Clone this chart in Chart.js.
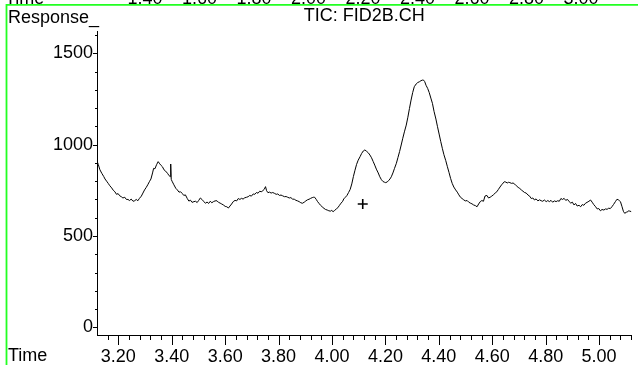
<!DOCTYPE html>
<html>
<head>
<meta charset="utf-8">
<script src="https://cdn.jsdelivr.net/npm/chart.js@4"></script>
<style>
html,body{margin:0;padding:0;background:#fff;overflow:hidden;}
canvas{display:block;}
</style>
</head>
<body>
<canvas id="c" width="638" height="365"></canvas>
<script>
// ---- data ----
const times = [
3.119,3.125,3.131,3.138,3.145,3.150,3.156,3.162,3.168,3.175,3.181,3.187,3.193,3.199,3.205,3.211,3.217,3.224,3.230,3.236,
3.242,3.248,3.255,3.261,3.267,3.273,3.279,3.286,3.292,3.298,3.304,3.310,3.316,3.322,3.328,3.332,3.337,3.343,3.349,3.355,
3.360,3.365,3.371,3.377,3.384,3.390,3.394,3.396,3.398,3.401,3.408,3.415,3.421,3.427,3.433,3.439,3.445,3.451,3.458,3.464,
3.470,3.476,3.483,3.489,3.495,3.501,3.507,3.513,3.519,3.526,3.532,3.538,3.544,3.550,3.556,3.562,3.569,3.575,3.581,3.587,
3.593,3.600,3.606,3.612,3.618,3.624,3.630,3.637,3.643,3.649,3.655,3.661,3.667,3.673,3.680,3.686,3.692,3.698,3.705,3.711,
3.717,3.723,3.729,3.735,3.741,3.746,3.751,3.755,3.760,3.766,3.772,3.778,3.785,3.791,3.797,3.803,3.809,3.815,3.822,3.828,
3.834,3.840,3.846,3.852,3.859,3.865,3.871,3.877,3.883,3.889,3.896,3.902,3.908,3.914,3.920,3.926,3.930,3.935,3.941,3.946,
3.951,3.957,3.963,3.970,3.976,3.982,3.988,3.994,3.999,4.004,4.010,4.016,4.022,4.028,4.034,4.040,4.044,4.050,4.056,4.062,
4.068,4.074,4.080,4.086,4.092,4.098,4.105,4.111,4.117,4.123,4.129,4.136,4.142,4.148,4.154,4.160,4.166,4.173,4.179,4.185,
4.191,4.197,4.201,4.207,4.213,4.217,4.222,4.228,4.234,4.241,4.247,4.253,4.259,4.265,4.271,4.278,4.284,4.290,4.296,4.302,
4.308,4.315,4.321,4.327,4.333,4.338,4.342,4.347,4.352,4.358,4.364,4.370,4.376,4.382,4.389,4.395,4.401,4.407,4.413,4.419,
4.426,4.432,4.438,4.444,4.450,4.456,4.463,4.469,4.475,4.481,4.487,4.493,4.499,4.506,4.512,4.518,4.524,4.530,4.537,4.543,
4.549,4.555,4.561,4.567,4.573,4.580,4.586,4.592,4.598,4.604,4.611,4.617,4.623,4.629,4.635,4.641,4.645,4.651,4.656,4.661,
4.666,4.672,4.678,4.684,4.690,4.697,4.703,4.709,4.715,4.721,4.727,4.734,4.740,4.746,4.752,4.758,4.764,4.771,4.777,4.783,
4.789,4.795,4.802,4.808,4.814,4.820,4.826,4.833,4.839,4.845,4.851,4.857,4.863,4.869,4.875,4.882,4.888,4.894,4.900,4.906,
4.912,4.918,4.925,4.931,4.937,4.943,4.949,4.955,4.962,4.968,4.974,4.980,4.987,4.993,4.999,5.005,5.011,5.018,5.024,5.030,
5.036,5.042,5.048,5.054,5.061,5.067,5.072,5.077,5.080,5.086,5.091,5.096,5.102,5.107,5.110,5.115,5.121
];
const response = [
916,890,862,843,826,812,800,788,775,763,750,742,728,732,720,715,708,712,700,700,
694,702,690,693,700,693,706,718,735,752,765,780,797,812,845,870,868,890,907,895,
886,879,862,855,843,830,825,894,810,800,780,761,752,740,742,733,722,725,705,691,
696,684,688,690,683,695,708,700,690,679,686,678,690,682,688,692,693,684,680,675,
670,662,660,653,664,675,688,695,692,705,700,706,702,709,712,715,722,718,730,728,
738,734,745,742,748,755,770,748,737,740,735,738,733,728,730,722,724,720,715,716,
712,708,710,702,701,695,692,688,682,679,685,692,698,701,706,710,712,712,700,688,
679,668,660,651,645,642,638,636,640,633,640,648,655,668,680,690,703,712,722,738,
755,785,825,860,892,915,934,952,965,971,964,955,943,928,908,888,866,845,824,808,
798,794,792,796,805,812,824,845,870,898,930,962,998,1035,1070,1107,1150,1198,1244,1285,
1317,1332,1340,1344,1350,1353,1354,1345,1325,1308,1285,1255,1226,1182,1140,1098,1058,1018,980,945,
912,879,848,815,788,768,752,740,725,712,705,698,692,694,685,680,676,670,666,660,
675,688,694,690,719,722,708,712,718,725,735,742,755,768,780,790,797,795,790,794,
792,788,790,784,775,766,760,752,745,738,735,724,718,705,708,697,703,692,698,693,
690,697,688,694,688,695,685,692,688,693,690,705,700,706,695,700,688,680,685,670,
678,664,668,660,672,668,679,684,690,697,685,672,660,648,650,638,645,642,648,646,
652,650,660,672,688,701,698,692,688,660,635,624,630,632,638,636,633
];
const markerTimes = [4.115];
const markerResponse = [675];

const xMajorTicks = [3.20, 3.40, 3.60, 3.80, 4.00, 4.20, 4.40, 4.60, 4.80, 5.00];
const xTickLabels = ['3.20','3.40','3.60','3.80','4.00','4.20','4.40','4.60','4.80','5.00'];
const yMajorTicks = [0, 500, 1000, 1500];
const yTickLabels = ['0','500','1000','1500'];
const xMin = 3.120, xMax = 5.121;
const yMin = -42, yMax = 1622;

const titleText = 'TIC: FID2B.CH';
const yAxisLabel = 'Response_';
const xAxisLabel = 'Time';
// clipped axis labels of the chart above (only their bottoms show)
const prevLabels = ['Time','1.40','1.60','1.80','2.00','2.20','2.40','2.60','2.80','3.00'];

// minor ticks: every 0.04 min and every 100 response units
const xMinorTicks = [];
for (let k = 79; k <= 128; k++) xMinorTicks.push(k * 0.04);
const yMinorTicks = [];
for (let k = 0; k <= 16; k++) yMinorTicks.push(k * 100);

const FONT = 'Liberation Sans, Arial, sans-serif';

const decor = {
  id: 'decor',
  afterDraw(chart) {
    const c = chart.ctx, a = chart.chartArea;
    const xs = chart.scales.x, ys = chart.scales.y;
    c.save();
    c.strokeStyle = '#000';
    c.lineWidth = 1;
    c.beginPath();
    xMinorTicks.forEach(v => {
      const isMajor = xMajorTicks.some(m => Math.abs(m - v) < 1e-6);
      if (v > xMax) return;
      const px = Math.round(xs.getPixelForValue(v)) + 0.5;
      c.moveTo(px, a.bottom);
      c.lineTo(px, a.bottom + (isMajor ? 10 : 5));
    });
    yMinorTicks.forEach(v => {
      const isMajor = yMajorTicks.includes(v);
      const py = Math.round(ys.getPixelForValue(v)) + 0.5;
      c.moveTo(a.left, py);
      c.lineTo(a.left - (isMajor ? 4 : 2), py);
    });
    c.stroke();

    c.fillStyle = '#000';
    c.font = '18px ' + FONT;
    c.textAlign = 'left';
    c.textBaseline = 'alphabetic';
    c.fillText(yAxisLabel, 8, 23);
    c.fillText(xAxisLabel, 8, 361);

    // clipped labels of the previous plot at the very top
    c.save();
    c.beginPath();
    c.rect(0, 0, chart.width, 4);
    c.clip();
    c.textAlign = 'left';
    c.fillText(prevLabels[0], 5, 3.5);
    c.textAlign = 'center';
    for (let i = 1; i < prevLabels.length; i++) {
      c.fillText(prevLabels[i], 145 + (i - 1) * 54.5, 3.5);
    }
    c.restore();

    // green frame
    c.strokeStyle = '#22ff22';
    c.lineWidth = 1.8;
    c.beginPath();
    c.moveTo(6.5, chart.height);
    c.lineTo(6.5, 4.8);
    c.lineTo(chart.width, 4.8);
    c.stroke();
    c.restore();
  }
};

new Chart(document.getElementById('c'), {
  type: 'line',
  data: {
    datasets: [
      {
        data: times.map((t, i) => ({ x: t, y: response[i] })),
        borderColor: '#000',
        borderWidth: 1,
        pointRadius: 0,
        tension: 0,
        fill: false
      },
      {
        type: 'scatter',
        data: markerTimes.map((t, i) => ({ x: t, y: markerResponse[i] })),
        pointStyle: 'cross',
        pointRadius: 5,
        borderColor: '#000',
        backgroundColor: '#000',
        borderWidth: 1.6,
        showLine: false
      }
    ]
  },
  options: {
    responsive: false,
    animation: false,
    devicePixelRatio: 1,
    layout: { padding: 0 },
    plugins: {
      legend: { display: false },
      tooltip: { enabled: false },
      title: {
        display: true,
        text: titleText,
        fullSize: false,
        color: '#000',
        font: { family: FONT, size: 18, weight: 'normal', lineHeight: 1.2 },
        padding: { top: 5, bottom: 4.4 }
      }
    },
    scales: {
      x: {
        type: 'linear',
        min: xMin,
        max: xMax,
        grid: { display: false, drawTicks: false },
        border: { display: true, color: '#000', width: 1 },
        afterBuildTicks: s => { s.ticks = xMajorTicks.map(v => ({ value: v })); },
        afterFit: s => { s.height = 30; },
        ticks: {
          autoSkip: false,
          maxRotation: 0,
          padding: 11,
          color: '#000',
          font: { family: FONT, size: 18 },
          callback: (v, i) => xTickLabels[i]
        }
      },
      y: {
        type: 'linear',
        min: yMin,
        max: yMax,
        grid: { display: false, drawTicks: false },
        border: { display: true, color: '#000', width: 1 },
        afterBuildTicks: s => { s.ticks = yMajorTicks.map(v => ({ value: v })); },
        afterFit: s => { s.width = 97; },
        ticks: {
          autoSkip: false,
          padding: 4,
          color: '#000',
          font: { family: FONT, size: 18 },
          callback: (v, i) => yTickLabels[i]
        }
      }
    }
  },
  plugins: [decor]
});
</script>
</body>
</html>
